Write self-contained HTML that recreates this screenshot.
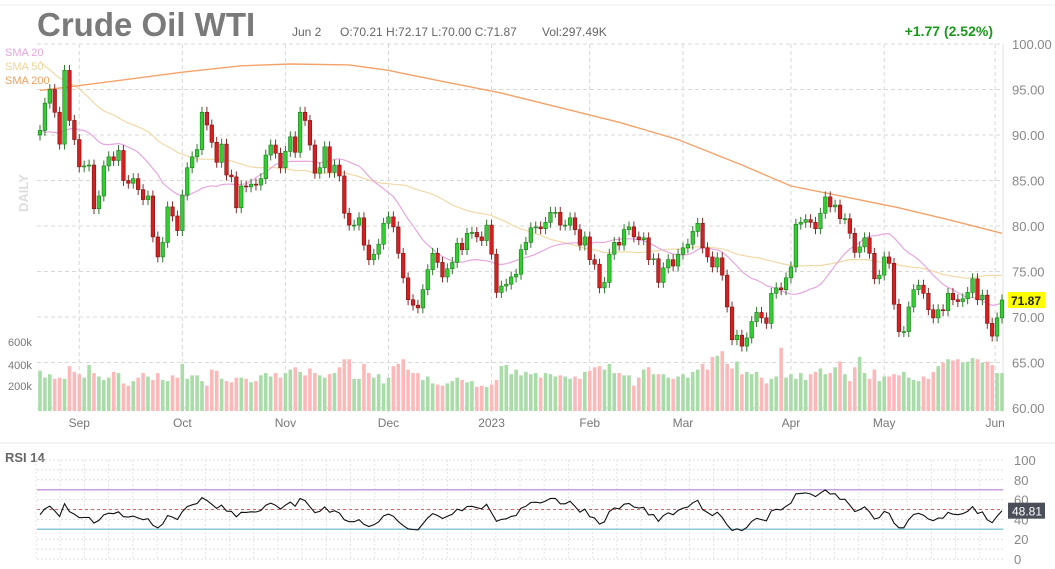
<!DOCTYPE html>
<html><head><meta charset="utf-8"><style>
html,body{margin:0;padding:0;background:#fff;}
svg{display:block;font-family:"Liberation Sans",Arial,sans-serif;}
</style></head><body>
<svg id="chart" width="1055" height="569" viewBox="0 0 1055 569">
<rect x="0" y="0" width="1055" height="569" fill="#fff"/>
<line x1="0" y1="5" x2="1055" y2="5" stroke="#eee"/>
<text x="37" y="36" font-size="33" font-weight="bold" fill="#7a7a7a">Crude Oil WTI</text>
<text x="292" y="36" font-size="12" fill="#666">Jun 2</text>
<text x="340" y="36" font-size="12" fill="#666">O:70.21  H:72.17  L:70.00  C:71.87</text>
<text x="542" y="36" font-size="12" fill="#666">Vol:297.49K</text>
<text x="993" y="36" font-size="14" font-weight="bold" fill="#1a9a1a" text-anchor="end">+1.77 (2.52%)</text>
<text transform="translate(28,212) rotate(-90)" font-size="13" font-weight="bold" fill="#ddd">DAILY</text>
<g id="grid"></g>
<g id="volumes"></g>
<g id="smas"></g>
<g id="candles"></g>
<g id="axes"></g>
<text x="5" y="56" font-size="11" fill="#e7a6df">SMA 20</text>
<text x="5" y="70" font-size="11" fill="#eed49a">SMA 50</text>
<text x="5" y="84" font-size="11" fill="#f0a060">SMA 200</text>
<text x="8" y="346" font-size="11" fill="#777">600k</text>
<text x="8" y="369" font-size="11" fill="#777">400k</text>
<text x="8" y="390" font-size="11" fill="#777">200k</text>
<line x1="0" y1="443" x2="1055" y2="443" stroke="#e4e4e4"/>
<text x="5" y="462" font-size="13" font-weight="bold" fill="#666">RSI 14</text>
<g id="rsi"></g>
</svg>
<script>
const NS="http://www.w3.org/2000/svg";
const prior=[122,120,118,120,115,117,110,109,104,106,107,109,111,110,108,106,99,98,104,102,96,95,96,94,97,102,104,96,97,95,97,94,96,98,94,94,91,90,89,88,90,88,92,91,94,92,88,86,87,88,90,90];
const closes=[90.5,93.5,95,92.5,89,97.1,91.6,89.5,86.5,86.6,86.7,81.9,83.3,86.6,87.6,87.2,88.3,85,84.7,85.2,84,82.9,83.3,78.8,76.6,78.2,82.1,81.1,79.5,83.4,86.4,87.6,88.4,92.5,91.1,89.2,87,89,85.6,85.4,82,84.4,84.3,84.6,84.5,85.2,87.8,88.9,88,
86.4,88.2,89.8,88.1,92.5,91.6,88.9,85.8,86.4,88.7,85.9,86.7,85.5,81.4,80.1,80.1,80.9,77.9,76.3,76.9,78,80.3,81,79.9,77,74.3,71.9,71.3,71,73,75.2,77,76,74.4,75.3,76,78.1,77.4,79.2,79.3,78.8,78.4,80.1,76.9,72.7,73.4,73.6,74.4,74.7,
77.4,78.2,79.8,79.9,79.7,80.4,81.5,81.5,80.1,80.1,80.9,79.6,77.9,78.8,76.3,75.8,73.2,73.8,76.9,78.2,77.9,79.6,79.9,78.8,78.5,78.7,76.3,76.4,73.8,75.4,76.3,75.6,76.9,77.6,78,79.4,80.3,77.6,76.6,75.5,76.5,74.6,71.1,67.5,68,66.8,67.7,69.5,70.5,
69.9,69.3,72.6,73.2,73,74.3,75.5,80.2,80.4,80.7,80.4,79.7,81.4,83.2,82.1,82.3,80.8,80.8,79.2,77.1,77.7,78.7,77,74.2,74.6,76.6,75.9,71.4,68.4,68.4,71.1,73,73.5,72.6,70.8,69.9,70.8,70.7,72.6,71.9,71.7,72,72.7,74.2,71.9,72.4,69.3,67.9,69.9,71.87];
const volumesK=[350,290,320,280,290,280,390,340,320,290,400,330,300,270,290,340,330,240,220,260,290,330,300,270,330,270,260,310,290,410,280,310,310,260,220,360,350,280,260,250,290,290,280,250,260,310,330,300,330,290,330,360,380,340,310,370,330,310,290,320,330,380,450,450,280,280,410,330,290,320,240,290,390,410,450,360,330,330,270,300,240,230,220,240,260,290,270,250,260,210,220,210,230,270,390,400,320,360,310,340,320,330,290,330,320,300,310,300,280,300,280,340,350,380,390,360,410,330,330,310,310,220,290,360,380,320,320,320,290,280,300,320,290,340,360,410,360,470,480,520,410,370,430,320,340,320,340,290,240,280,300,550,290,320,280,330,270,320,340,370,320,330,380,430,320,260,380,470,330,280,360,260,300,300,320,310,340,290,270,260,300,280,340,390,420,450,440,450,420,430,460,450,420,430,400,330,330];
const sma200Idx=[0,12,29,41,51,63,71,81,94,106,118,130,143,153,165,175,185,196];
const sma200Val=[94.9,95.7,96.9,97.6,97.8,97.7,97.1,96.0,94.6,93.0,91.4,89.5,86.7,84.4,83.1,82.0,80.7,79.2];
const monthLabels=["Sep","Oct","Nov","Dec","2023","Feb","Mar","Apr","May","Jun"];
const monthIdx=[8,29,50,71,92,112,131,153,172,194.6];
const priceTicks=[100,95,90,85,80,75,70,65,60];
const rsiTicks=[100,80,60,40,20,0];
const lastPrice=71.87;

const X0=40,DX=(1002-40)/196;
const xs=i=>X0+i*DX;
const yp=p=>44+(100-p)*9.1;
const yv=v=>411-v*0.115;
const yr=r=>559-r*0.99;
function mk(tag,attrs,parent){const e=document.createElementNS(NS,tag);for(const k in attrs)e.setAttribute(k,attrs[k]);parent.appendChild(e);return e;}
const grid=document.getElementById('grid'),vol=document.getElementById('volumes'),sm=document.getElementById('smas'),cg=document.getElementById('candles'),ax=document.getElementById('axes'),rg=document.getElementById('rsi');

priceTicks.forEach(p=>{
  const l=mk('line',{x1:37,x2:1003,y1:yp(p),y2:yp(p),stroke:'#d8d8d8','stroke-dasharray':'4,3'},grid);
  
  
  const t=mk('text',{x:1012,y:yp(p)+5,'font-size':13,fill:'#888'},ax);t.textContent=p.toFixed(2);
  
  
});
monthIdx.forEach((mi,k)=>{
  const x=xs(mi);
  const l=mk('line',{x1:x,x2:x,y1:44,y2:412,stroke:'#d8d8d8','stroke-dasharray':'4,3'},grid);
  
  
  const t=mk('text',{x:x,y:427,'font-size':12,fill:'#777','text-anchor':'middle'},ax);t.textContent=monthLabels[k];
  
  
});
mk('line',{x1:1003,x2:1003,y1:44,y2:412,stroke:'#e0e0e0'},grid);

const all=prior.concat(closes);const P=prior.length;
closes.forEach((c,i)=>{
  const o=i===0?prior[P-1]:closes[i-1];
  const up=c>=o;
  const v=mk('rect',{x:xs(i)-1.8,y:yv(volumesK[i]),width:3.6,height:411-yv(volumesK[i]),fill:up?'#a9dca9':'#fdb9b9'},vol);
  
  
});
function smaLine(n,color,name){
  let d='';
  closes.forEach((c,i)=>{const k=P+i;let s=0;for(let j=k-n+1;j<=k;j++)s+=all[j];s/=n;d+=(i?'L':'M')+xs(i).toFixed(1)+','+yp(s).toFixed(1);});
  const p=mk('path',{d:d,fill:'none',stroke:color,'stroke-width':1.2},sm);
  
  
}
smaLine(50,'#f1d9a6','sma-50-line');
smaLine(20,'#e7a6df','sma-20-line');
{let d='';sma200Idx.forEach((ix,k)=>{d+=(k?'L':'M')+xs(ix).toFixed(1)+','+yp(sma200Val[k]).toFixed(1);});
const p=mk('path',{d:d,fill:'none',stroke:'#f3a36a','stroke-width':1.4},sm);

}

closes.forEach((c,i)=>{
  const o=i===0?prior[P-1]:closes[i-1];
  const up=c>=o,x=xs(i);
  const hi=Math.max(o,c)+0.6,lo=Math.min(o,c)-0.6;
  const w=mk('line',{x1:x,x2:x,y1:yp(hi),y2:yp(lo),stroke:up?'#2d7a2d':'#8a2a2a'},cg);
  
  
  const top=yp(Math.max(o,c)),h=Math.max(1,yp(Math.min(o,c))-top);
  const b=mk('rect',{x:x-1.8,y:top,width:3.6,height:h,fill:up?'#33cc33':'#d42020',stroke:up?'#1d7a1d':'#7a1515','stroke-width':0.6},cg);
  
  
});
{const y=yp(lastPrice);
const r=mk('rect',{x:1008,y:y-8,width:37,height:16,fill:'#ffff00'},ax);


const t=mk('text',{x:1011,y:y+5,'font-size':12,'font-weight':'bold',fill:'#222'},ax);t.textContent=lastPrice.toFixed(2);

}

// RSI
for(let r=0;r<=100;r+=10){const l=mk('line',{x1:37,x2:1003,y1:yr(r),y2:yr(r),stroke:'#ddd','stroke-dasharray':'2,2'},rg);

}
for(let x=36;x<1003;x+=24.2){const l=mk('line',{x1:x,x2:x,y1:yr(100),y2:yr(0),stroke:'#e4e4e4','stroke-dasharray':'2,2'},rg);

}
const lv=[[70,'#c9a0dc','rsi-overbought-line'],[30,'#8cc8dc','rsi-oversold-line']];
lv.forEach(a=>{const l=mk('line',{x1:37,x2:1003,y1:yr(a[0]),y2:yr(a[0]),stroke:a[1],'stroke-width':1.5},rg);

});
{const l=mk('line',{x1:37,x2:1003,y1:yr(50),y2:yr(50),stroke:'#e06060','stroke-dasharray':'3,3'},rg);

}
rsiTicks.forEach(r=>{const t=mk('text',{x:1014,y:yr(r)+5,'font-size':13,fill:'#888'},rg);t.textContent=r;

});
{let ag=0,al=0;const n=14;const rs=[];
for(let k=1;k<all.length;k++){const ch=all[k]-all[k-1];const g=Math.max(ch,0),lo=Math.max(-ch,0);
 if(k<=n){ag+=g/n;al+=lo/n;}else{ag=(ag*(n-1)+g)/n;al=(al*(n-1)+lo)/n;}
 rs.push(al===0?100:100-100/(1+ag/al));}
let d='';closes.forEach((c,i)=>{const r=rs[P+i-1];d+=(i?'L':'M')+xs(i).toFixed(1)+','+yr(r).toFixed(1);});
const p=mk('path',{d:d,fill:'none',stroke:'#111','stroke-width':1.1},rg);


const last=rs[rs.length-1];
const b=mk('rect',{x:1008,y:yr(last)-8,width:37,height:16,fill:'#4a4f5a'},rg);


const t=mk('text',{x:1012,y:yr(last)+5,'font-size':12,fill:'#fff'},rg);t.textContent=last.toFixed(2);

}
</script>
</body></html>
